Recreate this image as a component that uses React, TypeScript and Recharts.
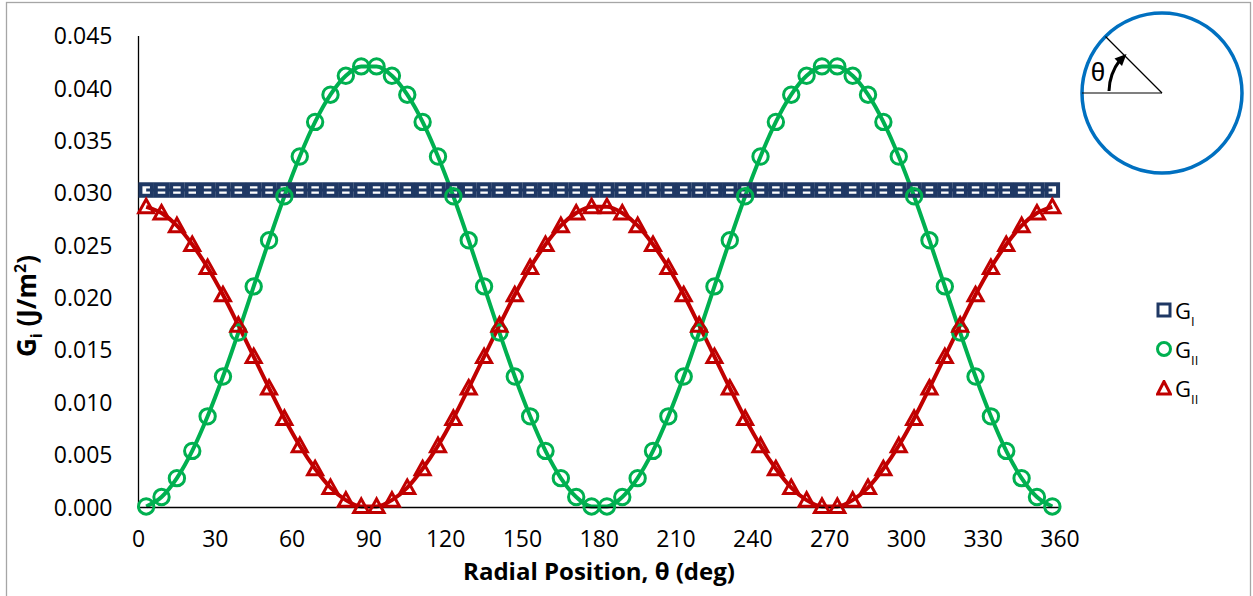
import { LineChart, Line, XAxis, YAxis, Legend } from 'recharts';

// radial positions of the sampled points (deg)
const thetas = [
  3, 9, 15, 21, 27, 33, 39, 45, 51, 57, 63, 69, 75, 81, 87,
  93, 99, 105, 111, 117, 123, 129, 135, 141, 147, 153, 159, 165, 171, 177,
  183, 189, 195, 201, 207, 213, 219, 225, 231, 237, 243, 249, 255, 261, 267,
  273, 279, 285, 291, 297, 303, 309, 315, 321, 327, 333, 339, 345, 351, 357,
];

const gI = [
  0.0303, 0.0303, 0.0303, 0.0303, 0.0303, 0.0303, 0.0303, 0.0303, 0.0303, 0.0303, 0.0303, 0.0303, 0.0303, 0.0303, 0.0303,
  0.0303, 0.0303, 0.0303, 0.0303, 0.0303, 0.0303, 0.0303, 0.0303, 0.0303, 0.0303, 0.0303, 0.0303, 0.0303, 0.0303, 0.0303,
  0.0303, 0.0303, 0.0303, 0.0303, 0.0303, 0.0303, 0.0303, 0.0303, 0.0303, 0.0303, 0.0303, 0.0303, 0.0303, 0.0303, 0.0303,
  0.0303, 0.0303, 0.0303, 0.0303, 0.0303, 0.0303, 0.0303, 0.0303, 0.0303, 0.0303, 0.0303, 0.0303, 0.0303, 0.0303, 0.0303,
];

const gII = [
  0.0001, 0.0010, 0.0028, 0.0054, 0.0087, 0.0125, 0.0167, 0.0211, 0.0255, 0.0297, 0.0335, 0.0368, 0.0394, 0.0412, 0.0421,
  0.0421, 0.0412, 0.0394, 0.0368, 0.0335, 0.0297, 0.0255, 0.0211, 0.0167, 0.0125, 0.0087, 0.0054, 0.0028, 0.0010, 0.0001,
  0.0001, 0.0010, 0.0028, 0.0054, 0.0087, 0.0125, 0.0167, 0.0211, 0.0255, 0.0297, 0.0335, 0.0368, 0.0394, 0.0412, 0.0421,
  0.0421, 0.0412, 0.0394, 0.0368, 0.0335, 0.0297, 0.0255, 0.0211, 0.0167, 0.0125, 0.0087, 0.0054, 0.0028, 0.0010, 0.0001,
];

const gIII = [
  0.0287, 0.0281, 0.0269, 0.0251, 0.0229, 0.0203, 0.0174, 0.0144, 0.0114, 0.0085, 0.0059, 0.0037, 0.0019, 0.0007, 0.0001,
  0.0001, 0.0007, 0.0019, 0.0037, 0.0059, 0.0085, 0.0114, 0.0144, 0.0174, 0.0203, 0.0229, 0.0251, 0.0269, 0.0281, 0.0287,
  0.0287, 0.0281, 0.0269, 0.0251, 0.0229, 0.0203, 0.0174, 0.0144, 0.0114, 0.0085, 0.0059, 0.0037, 0.0019, 0.0007, 0.0001,
  0.0001, 0.0007, 0.0019, 0.0037, 0.0059, 0.0085, 0.0114, 0.0144, 0.0174, 0.0203, 0.0229, 0.0251, 0.0269, 0.0281, 0.0287,
];

const xTicks = [0, 30, 60, 90, 120, 150, 180, 210, 240, 270, 300, 330, 360];
const yTicks = [0, 0.005, 0.01, 0.015, 0.02, 0.025, 0.03, 0.035, 0.04, 0.045];

const legendItems = [
  { key: 'gI', sub: 'I' },
  { key: 'gII', sub: 'II' },
  { key: 'gIII', sub: 'II' },
];

const data = thetas.map((theta, i) => ({ theta, gI: gI[i], gII: gII[i], gIII: gIII[i] }));

const FONT = "'Open Sans', sans-serif";
const NAVY = '#1f3864';
const GREEN = '#00b050';
const RED = '#c00000';
const BLUE = '#0070c0';

const SquareDot = (p: any) => (
  <rect key={`sq-${p.index}`} x={p.cx - 5.75} y={p.cy - 5.75} width={11.5} height={11.5}
    fill="none" stroke={NAVY} strokeWidth={4} />
);

const CircleDot = (p: any) => (
  <circle key={`ci-${p.index}`} cx={p.cx} cy={p.cy} r={7.7} fill="none" stroke={GREEN} strokeWidth={3} />
);

const TriangleDot = (p: any) => (
  <polygon key={`tr-${p.index}`}
    points={`${p.cx},${p.cy - 7.5} ${p.cx - 7.5},${p.cy + 6} ${p.cx + 7.5},${p.cy + 6}`}
    fill="none" stroke={RED} strokeWidth={3} strokeLinejoin="miter" />
);

const legendIcon = (key: string) => {
  if (key === 'gI') return <rect x={2} y={2} width={12} height={12} fill="none" stroke={NAVY} strokeWidth={3} />;
  if (key === 'gII') return <circle cx={8} cy={8} r={6.5} fill="none" stroke={GREEN} strokeWidth={3} />;
  return <polygon points="8,1.5 1.5,14 14.5,14" fill="none" stroke={RED} strokeWidth={3} />;
};

const renderLegend = () => (
  <div style={{ fontFamily: FONT, fontSize: 22, color: '#000', lineHeight: 1 }}>
    {legendItems.map((it) => (
      <div key={it.key} style={{ height: 39, display: 'flex', alignItems: 'center' }}>
        <svg width={16} height={16} style={{ marginRight: 3 }}>{legendIcon(it.key)}</svg>
        <span>
          G<span style={{ fontSize: 13, position: 'relative', top: 7 }}>{it.sub}</span>
        </span>
      </div>
    ))}
  </div>
);

const YTitle = () => (
  <text transform="rotate(-90 36 306)" x={36} y={306} textAnchor="middle"
    fontFamily={FONT} fontSize={26} fontWeight="bold" fill="#000">
    G<tspan dy={6} fontSize={16}>i</tspan>
    <tspan dy={-6}> (J/m</tspan>
    <tspan dy={-10} fontSize={16}>2</tspan>
    <tspan dy={10}>)</tspan>
  </text>
);

const XTitle = () => (
  <text x={599} y={580} textAnchor="middle" fontFamily={FONT} fontSize={24} fontWeight="bold" fill="#000">
    Radial Position, θ (deg)
  </text>
);

export default function App() {
  return (
    <div style={{ position: 'absolute', left: 0, top: 0, width: 1253, height: 596, background: '#fff' }}>
      <LineChart width={1253} height={596} data={data} margin={{ top: 36, right: 193, bottom: 0, left: 0 }}>
        <XAxis type="number" dataKey="theta" domain={[0, 360]} ticks={xTicks} height={88.5}
          axisLine={{ stroke: '#000', strokeWidth: 1.3 }} tickLine={false} tickSize={0} tickMargin={23}
          tick={{ fontFamily: FONT, fontSize: 23, fill: '#000' }} label={{ content: XTitle }} />
        <YAxis type="number" domain={[0, 0.045]} ticks={yTicks} width={138.5}
          tickFormatter={(v: number) => v.toFixed(3)}
          axisLine={{ stroke: '#000', strokeWidth: 1.3 }} tickLine={false} tickSize={0} tickMargin={26}
          tick={{ fontFamily: FONT, fontSize: 23, fill: '#000' }} label={{ content: YTitle }} />
        <Legend layout="horizontal" align="center" verticalAlign="middle" content={renderLegend}
          wrapperStyle={{ left: 1156, top: 290, width: 80, height: 120 }} />
        <Line dataKey="gI" type="linear" stroke={NAVY} strokeWidth={3} dot={SquareDot} activeDot={false}
          isAnimationActive={false} />
        <Line dataKey="gII" type="monotone" stroke={GREEN} strokeWidth={4} dot={CircleDot} activeDot={false}
          isAnimationActive={false} />
        <Line dataKey="gIII" type="monotone" stroke={RED} strokeWidth={4} dot={TriangleDot} activeDot={false}
          isAnimationActive={false} />
      </LineChart>
      <svg width={1253} height={596} style={{ position: 'absolute', left: 0, top: 0, pointerEvents: 'none' }}>
        <rect x={6.5} y={2.5} width={1244} height={620} fill="none" stroke="#a6a6a6" strokeWidth={1.3} />
        <circle cx={1162} cy={93} r={80} fill="none" stroke={BLUE} strokeWidth={3.5} />
        <line x1={1082} y1={93} x2={1162} y2={93} stroke="#000" strokeWidth={1.2} />
        <line x1={1162} y1={93} x2={1105.5} y2={36.5} stroke="#000" strokeWidth={1.2} />
        <path d="M 1109 91 A 53 53 0 0 1 1120 60" fill="none" stroke="#000" strokeWidth={3} />
        <polygon points="1126.5,54 1114.5,58.5 1122,66" fill="#000" />
        <text x={1098} y={81} textAnchor="middle" fontFamily="'Liberation Sans', Arial, sans-serif" fontSize={26} fill="#000">θ</text>
      </svg>
    </div>
  );
}
